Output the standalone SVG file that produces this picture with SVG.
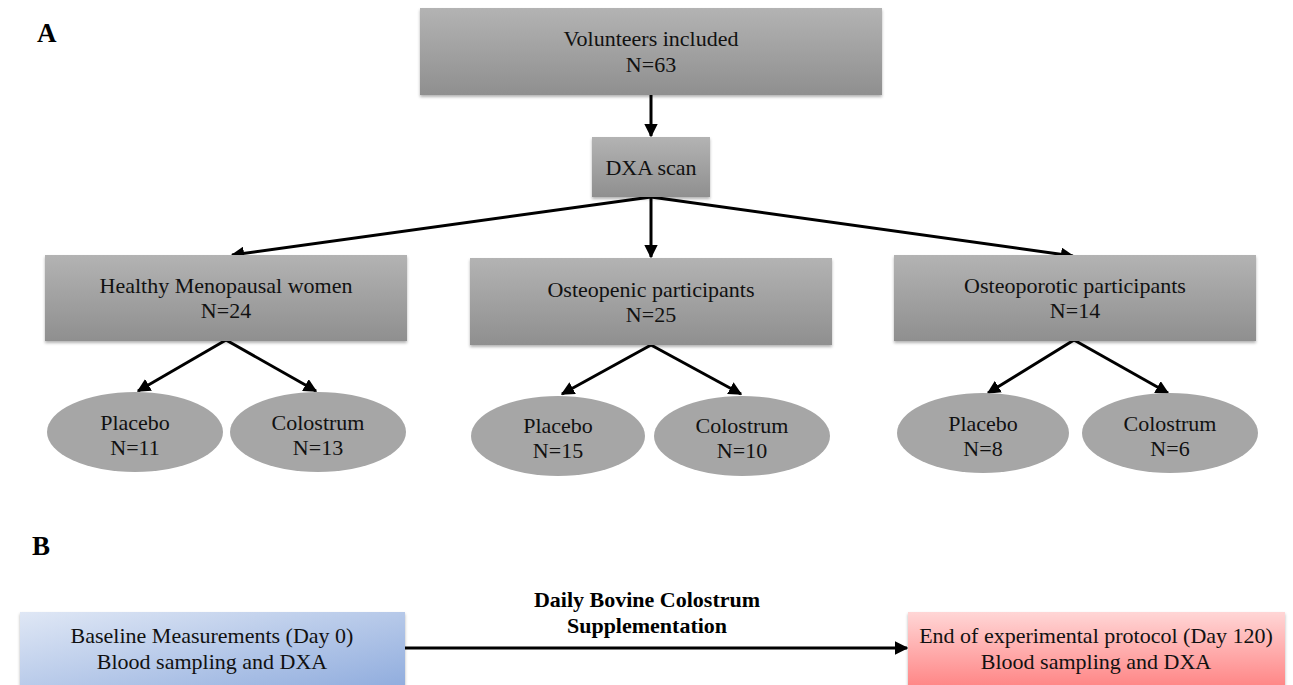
<svg xmlns="http://www.w3.org/2000/svg" width="1293" height="685" viewBox="0 0 1293 685">
<style>
text{font-family:"Liberation Serif","Times New Roman",serif;font-size:22px;fill:#111;text-anchor:middle}
.lbl{font-weight:bold;font-size:27px;text-anchor:start;fill:#000}
.bold{font-weight:bold;font-size:22px;fill:#000}
.box{fill:url(#gray);filter:url(#sh)}
.ell{fill:#a6a6a6}
.con line{stroke:#000;stroke-width:3;marker-end:url(#ah)}
</style>
<defs>
<linearGradient id="gray" x1="0" y1="0" x2="0" y2="1">
<stop offset="0" stop-color="#b3b3b3"/>
<stop offset="1" stop-color="#8f8f8f"/>
</linearGradient>
<linearGradient id="blue" x1="0" y1="0" x2="1" y2="1">
<stop offset="0" stop-color="#dfe7f5"/>
<stop offset="1" stop-color="#8eabdd"/>
</linearGradient>
<linearGradient id="red" x1="0" y1="0" x2="0" y2="1">
<stop offset="0" stop-color="#ffd6d6"/>
<stop offset="1" stop-color="#ff8080"/>
</linearGradient>
<filter id="sh" x="-5%" y="-10%" width="110%" height="125%">
<feDropShadow dx="0" dy="2" stdDeviation="1.5" flood-color="#000" flood-opacity="0.3"/>
</filter>
<marker id="ah" viewBox="0 0 10 10" refX="9" refY="5" markerWidth="4.5" markerHeight="4.5" orient="auto" markerUnits="strokeWidth">
<path d="M0,0 L10,5 L0,10 z" fill="#000"/>
</marker>
</defs>
<text class="lbl" x="37" y="42">A</text>
<text class="lbl" x="32" y="555">B</text>
<g class="con" id="connectors">
<line x1="651" y1="95" x2="651" y2="136"/>
<line x1="651" y1="197" x2="232" y2="255"/>
<line x1="651" y1="197" x2="651" y2="257"/>
<line x1="651" y1="197" x2="1073" y2="256"/>
<line x1="226" y1="340" x2="138" y2="391"/>
<line x1="226" y1="340" x2="316" y2="391"/>
<line x1="651" y1="345" x2="562" y2="394"/>
<line x1="651" y1="345" x2="741" y2="394"/>
<line x1="1074" y1="340" x2="988" y2="393"/>
<line x1="1074" y1="340" x2="1168" y2="393"/>
<line x1="405" y1="648" x2="907" y2="648"/>
</g>
<g id="volunteers"><rect class="box" x="420" y="8" width="462" height="87"/><text x="651" y="46">Volunteers included</text><text x="651" y="72">N=63</text></g>
<g id="dxa"><rect class="box" x="592" y="137" width="118" height="60"/><text x="651" y="175">DXA scan</text></g>
<g id="healthy"><rect class="box" x="45" y="255" width="362" height="86"/><text x="226" y="293">Healthy Menopausal women</text><text x="226" y="318">N=24</text></g>
<g id="osteopenic"><rect class="box" x="470" y="258" width="362" height="87"/><text x="651" y="297">Osteopenic participants</text><text x="651" y="322">N=25</text></g>
<g id="osteoporotic"><rect class="box" x="894" y="255" width="362" height="86"/><text x="1075" y="293">Osteoporotic participants</text><text x="1075" y="318">N=14</text></g>
<g id="h-placebo"><ellipse class="ell" cx="135" cy="432" rx="88" ry="40"/><text x="135" y="430">Placebo</text><text x="135" y="455">N=11</text></g>
<g id="h-colostrum"><ellipse class="ell" cx="318" cy="432" rx="88" ry="40"/><text x="318" y="430">Colostrum</text><text x="318" y="455">N=13</text></g>
<g id="p-placebo"><ellipse class="ell" cx="558" cy="436" rx="87" ry="40"/><text x="558" y="433">Placebo</text><text x="558" y="458">N=15</text></g>
<g id="p-colostrum"><ellipse class="ell" cx="742" cy="436" rx="88" ry="40"/><text x="742" y="433">Colostrum</text><text x="742" y="458">N=10</text></g>
<g id="o-placebo"><ellipse class="ell" cx="983" cy="433" rx="86" ry="40"/><text x="983" y="431">Placebo</text><text x="983" y="456">N=8</text></g>
<g id="o-colostrum"><ellipse class="ell" cx="1170" cy="433" rx="88" ry="40"/><text x="1170" y="431">Colostrum</text><text x="1170" y="456">N=6</text></g>
<g id="baseline"><rect x="20" y="612" width="385" height="80" fill="url(#blue)" filter="url(#sh)"/><text x="212" y="643">Baseline Measurements (Day 0)</text><text x="212" y="669">Blood sampling and DXA</text></g>
<g id="supplement-label"><text class="bold" x="647" y="607">Daily Bovine Colostrum</text><text class="bold" x="647" y="633">Supplementation</text></g>
<g id="end"><rect x="908" y="612" width="377" height="80" fill="url(#red)" filter="url(#sh)"/><text x="1096" y="643">End of experimental protocol (Day 120)</text><text x="1096" y="669">Blood sampling and DXA</text></g>
</svg>
